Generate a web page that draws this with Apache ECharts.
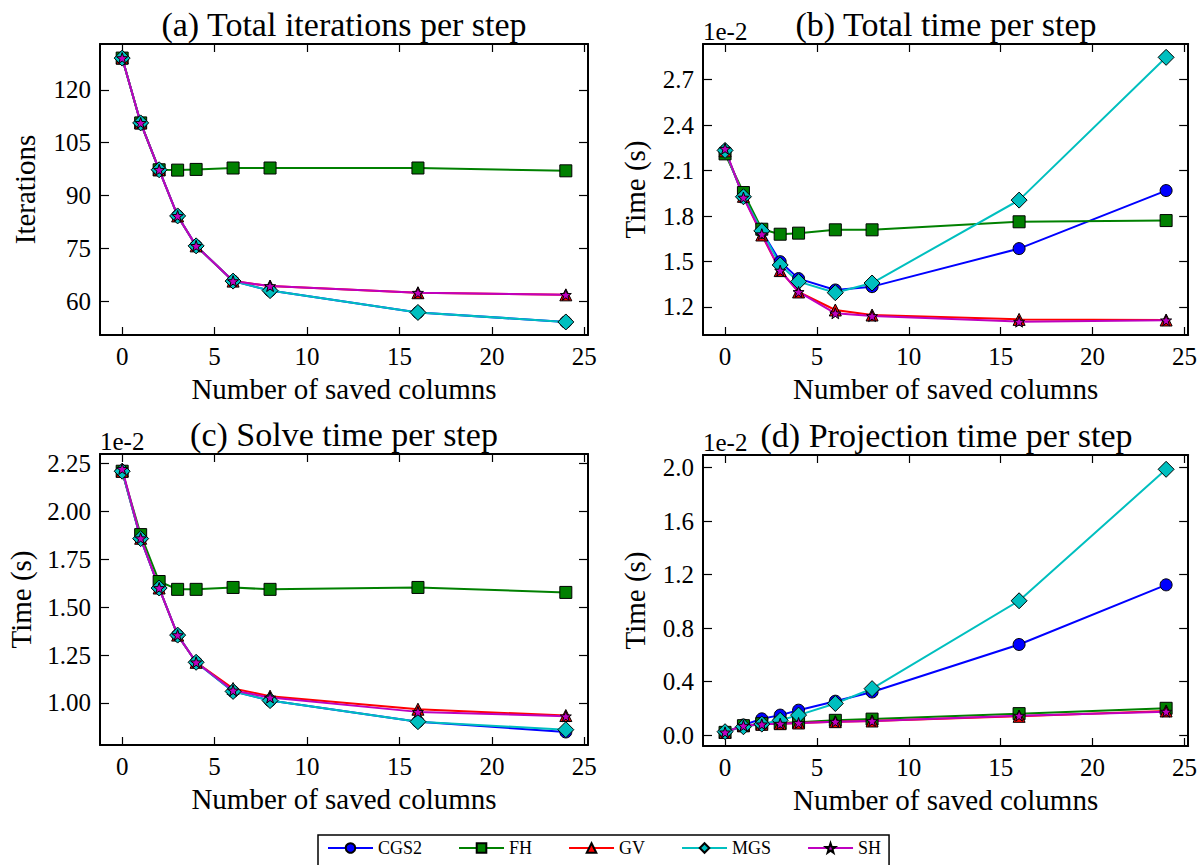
<!DOCTYPE html>
<html>
<head>
<meta charset="utf-8">
<script src="https://cdn.jsdelivr.net/npm/echarts@6/dist/echarts.min.js"></script>
<style>
  html, body { margin: 0; padding: 0; background: #fff; }
  #chart { width: 1200px; height: 865px; }
</style>
</head>
<body>
<div id="chart"></div>
<script>
(function() {
  // saved columns (x values shared by all panels)
  var cols = [0, 1, 2, 3, 4, 6, 8, 16, 24];
  var xTicks = [0, 5, 10, 15, 20, 25];

  // (a) total iterations per step
  var itCGS2 = [129, 110.6, 97.3, 84.2, 75.7, 65.7, 63.0, 56.8, 54.1];
  var itFH   = [129, 110.6, 97.3, 97.2, 97.4, 97.8, 97.8, 97.8, 97.0];
  var itGV   = [129, 110.6, 97.3, 84.2, 75.7, 65.7, 64.3, 62.4, 61.8];
  var itMGS  = [129, 110.6, 97.3, 84.2, 75.7, 65.7, 63.0, 56.8, 54.1];
  var itSH   = [129, 110.6, 97.3, 84.2, 75.7, 65.7, 64.3, 62.4, 61.8];
  var itTicks = [60, 75, 90, 105, 120];

  // (b) total time per step, x 1e-2 s
  var ttCGS2 = [2.23, 1.93, 1.70, 1.499, 1.387, 1.312, 1.334, 1.585, 1.968];
  var ttFH   = [2.21, 1.955, 1.713, 1.68, 1.687, 1.709, 1.709, 1.762, 1.77];
  var ttGV   = [2.23, 1.93, 1.675, 1.44, 1.299, 1.18, 1.147, 1.118, 1.114];
  var ttMGS  = [2.233, 1.927, 1.702, 1.477, 1.367, 1.294, 1.358, 1.905, 2.847];
  var ttSH   = [2.244, 1.922, 1.68, 1.44, 1.299, 1.158, 1.14, 1.103, 1.112];
  var ttTicks = [1.2, 1.5, 1.8, 2.1, 2.4, 2.7];

  // (c) solve time per step, x 1e-2 s
  var stCGS2 = [2.21, 1.858, 1.60, 1.354, 1.212, 1.06, 1.012, 0.902, 0.848];
  var stFH   = [2.21, 1.879, 1.634, 1.593, 1.593, 1.603, 1.593, 1.603, 1.577];
  var stGV   = [2.21, 1.86, 1.60, 1.354, 1.212, 1.075, 1.035, 0.967, 0.934];
  var stMGS  = [2.21, 1.858, 1.60, 1.354, 1.212, 1.06, 1.012, 0.902, 0.86];
  var stSH   = [2.222, 1.86, 1.60, 1.354, 1.212, 1.065, 1.028, 0.953, 0.93];
  var stTicks = [1.00, 1.25, 1.50, 1.75, 2.00, 2.25];

  // (d) projection time per step, x 1e-2 s
  var ptCGS2 = [0.02, 0.075, 0.121, 0.149, 0.186, 0.253, 0.322, 0.677, 1.123];
  var ptFH   = [0.02, 0.07, 0.085, 0.09, 0.095, 0.11, 0.119, 0.16, 0.20];
  var ptGV   = [0.02, 0.07, 0.08, 0.085, 0.09, 0.10, 0.105, 0.14, 0.18];
  var ptMGS  = [0.025, 0.062, 0.082, 0.11, 0.149, 0.236, 0.347, 1.004, 1.987];
  var ptSH   = [0.02, 0.07, 0.08, 0.085, 0.09, 0.10, 0.105, 0.145, 0.175];
  var ptTicks = [0.0, 0.4, 0.8, 1.2, 1.6, 2.0];

  var names = ['CGS2', 'FH', 'GV', 'MGS', 'SH'];
  var colors = ['#0000ff', '#008000', '#ff0000', '#00bfbf', '#bf00bf'];
  var star = 'path://M0,-10L2.35,-3.24L9.51,-3.09L3.8,1.24L5.88,8.09L0,4L-5.88,8.09L-3.8,1.24L-9.51,-3.09L-2.35,-3.24Z';
  var symbols = ['circle', 'rect', 'triangle', 'diamond', star];
  var sizes = [12, 12, 12, 16, 11];

  var font = '"Liberation Serif", "DejaVu Serif", serif';
  var ink = '#000';

  var panels = [
    { title: '(a) Total iterations per step', yName: 'Iterations', data: [itCGS2, itFH, itGV, itMGS, itSH],
      ticks: itTicks, min: 50.4, max: 133.0, dec: 0, nameGap: 61, exp: false,
      left: 100, top: 44, width: 488, height: 291 },
    { title: '(b) Total time per step', yName: 'Time (s)', data: [ttCGS2, ttFH, ttGV, ttMGS, ttSH],
      ticks: ttTicks, min: 1.015, max: 2.935, dec: 1, nameGap: 54, exp: true,
      left: 703, top: 44, width: 486, height: 291 },
    { title: '(c) Solve time per step', yName: 'Time (s)', data: [stCGS2, stFH, stGV, stMGS, stSH],
      ticks: stTicks, min: 0.78, max: 2.30, dec: 2, nameGap: 65, exp: true,
      left: 100, top: 454, width: 488, height: 291 },
    { title: '(d) Projection time per step', yName: 'Time (s)', data: [ptCGS2, ptFH, ptGV, ptMGS, ptSH],
      ticks: ptTicks, min: -0.082, max: 2.094, dec: 1, nameGap: 54, exp: true,
      left: 703, top: 455, width: 487, height: 291 }
  ];

  var grid = [], xAxis = [], yAxis = [], series = [], graphic = [];
  var spine = { color: ink, width: 2 };
  var tick = { color: ink, width: 1.2 };

  panels.forEach(function(p, k) {
    grid.push({ left: p.left, top: p.top, width: p.width, height: p.height });

    xAxis.push({
      type: 'value', gridIndex: k, position: 'bottom', min: -1.2, max: 25.2,
      name: 'Number of saved columns', nameLocation: 'middle', nameGap: 39,
      nameTextStyle: { fontFamily: font, fontSize: 29, color: ink },
      axisLine: { show: true, onZero: false, lineStyle: spine },
      axisTick: { show: true, inside: true, length: 8, customValues: xTicks, lineStyle: tick },
      axisLabel: { show: true, customValues: xTicks, margin: 9, fontFamily: font, fontSize: 25, color: ink },
      splitLine: { show: false }
    });
    xAxis.push({
      type: 'value', gridIndex: k, position: 'top', min: -1.2, max: 25.2,
      axisLine: { show: true, onZero: false, lineStyle: spine },
      axisTick: { show: true, inside: true, length: 8, customValues: xTicks, lineStyle: tick },
      axisLabel: { show: false },
      splitLine: { show: false }
    });

    yAxis.push({
      type: 'value', gridIndex: k, position: 'left', min: p.min, max: p.max,
      name: p.yName, nameLocation: 'middle', nameGap: p.nameGap, nameRotate: 90,
      nameTextStyle: { fontFamily: font, fontSize: 29, color: ink },
      axisLine: { show: true, onZero: false, lineStyle: spine },
      axisTick: { show: true, inside: true, length: 9, customValues: p.ticks, lineStyle: tick },
      axisLabel: {
        show: true, customValues: p.ticks, margin: 9, fontFamily: font, fontSize: 25, color: ink,
        formatter: (function(dec) { return function(v) { return Number(v).toFixed(dec); }; })(p.dec)
      },
      splitLine: { show: false }
    });
    yAxis.push({
      type: 'value', gridIndex: k, position: 'right', min: p.min, max: p.max,
      axisLine: { show: true, onZero: false, lineStyle: spine },
      axisTick: { show: true, inside: true, length: 9, customValues: p.ticks, lineStyle: tick },
      axisLabel: { show: false },
      splitLine: { show: false }
    });

    names.forEach(function(n, i) {
      series.push({
        type: 'line', name: n, xAxisIndex: 2 * k, yAxisIndex: 2 * k,
        data: cols.map(function(c, j) { return [c, p.data[i][j]]; }),
        symbol: symbols[i], symbolSize: sizes[i], showAllSymbol: true,
        lineStyle: { color: colors[i], width: 2 },
        itemStyle: { color: colors[i], borderColor: ink, borderWidth: 1 },
        emphasis: { disabled: true }
      });
    });

    var cx = p.left + p.width / 2;
    graphic.push({
      type: 'text', x: cx, y: p.top - 3,
      style: { text: p.title, font: '34px ' + font, fill: ink, textAlign: 'center', textVerticalAlign: 'bottom' }
    });
    if (p.exp) {
      // offset exponent label above the y axis
      graphic.push({
        type: 'text', x: p.left, y: p.top,
        style: { text: '1e-2', font: '25px ' + font, fill: ink, textAlign: 'left', textVerticalAlign: 'bottom' }
      });
    }
  });

  var chart = echarts.init(document.getElementById('chart'), null, { renderer: 'svg' });
  chart.setOption({
    animation: false,
    backgroundColor: '#fff',
    grid: grid,
    xAxis: xAxis,
    yAxis: yAxis,
    series: series,
    graphic: graphic,
    legend: {
      data: names, left: 318, top: 835,
      orient: 'horizontal', itemWidth: 45, itemHeight: 12, itemGap: 36,
      padding: [4, 8, 20, 9],
      borderColor: ink, borderWidth: 1.5,
      textStyle: { fontFamily: font, fontSize: 18, color: ink },
      selectedMode: false
    }
  });
  window.addEventListener('resize', function() { chart.resize(); });
})();
</script>
</body>
</html>
